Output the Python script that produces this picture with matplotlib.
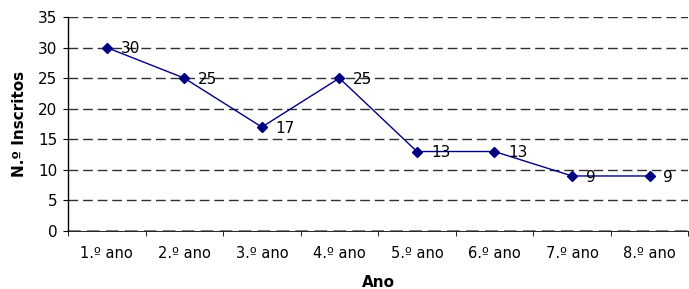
import matplotlib
matplotlib.use("Agg")
import matplotlib.pyplot as plt

categories = ["1.º ano", "2.º ano", "3.º ano", "4.º ano", "5.º ano", "6.º ano", "7.º ano", "8.º ano"]
values = [30, 25, 17, 25, 13, 13, 9, 9]
yticks = [0, 5, 10, 15, 20, 25, 30, 35]

plt.rcParams['font.family'] = ['DejaVu Sans']

fig = plt.figure(figsize=(6.89, 2.89), dpi=100)
ax = fig.add_axes([68/689, 1-231/289, 1-68/689-0.001, (231-17)/289])

x = list(range(len(categories)))
ax.plot(x, values, color="#000080", lw=1, marker="D", ms=5.5, zorder=3)
for xi, v in zip(x, values):
    ax.annotate(str(v), (xi, v), xytext=(10, -1), textcoords="offset points",
                va="center", ha="left", fontsize=11, color="black", zorder=4)

ax.set_xlim(-0.5, len(categories) - 0.5)
ax.set_ylim(0, 35)
ax.set_yticks(yticks)
ax.set_xticks(x)
ax.set_xticklabels(categories, fontsize=10.5)
ax.set_xticks([i - 0.5 for i in range(len(categories) + 1)], minor=True)
ax.tick_params(axis="x", which="major", length=0, pad=11)
ax.tick_params(axis="x", which="minor", length=3.5, direction="out")
ax.tick_params(axis="y", labelsize=11, length=3.5, direction="out", pad=4)
for yt in yticks[1:]:
    ax.axhline(yt, color="#303030", lw=1, ls=(0, (7, 3.5)), zorder=1)
ax.axhline(0, color="#707070", lw=1.3, ls=(0, (7, 3.5)), zorder=2)

for s in ["top", "right"]:
    ax.spines[s].set_visible(False)
ax.spines["bottom"].set_color("black")
ax.spines["bottom"].set_linewidth(0.6)
ax.spines["left"].set_color("black")
ax.spines["left"].set_linewidth(1)

ax.set_ylabel("N.º Inscritos", fontsize=11, fontweight="bold", labelpad=8)
ax.set_xlabel("Ano", fontsize=11, fontweight="bold", labelpad=10)

fig.savefig("out.png", dpi=100)
